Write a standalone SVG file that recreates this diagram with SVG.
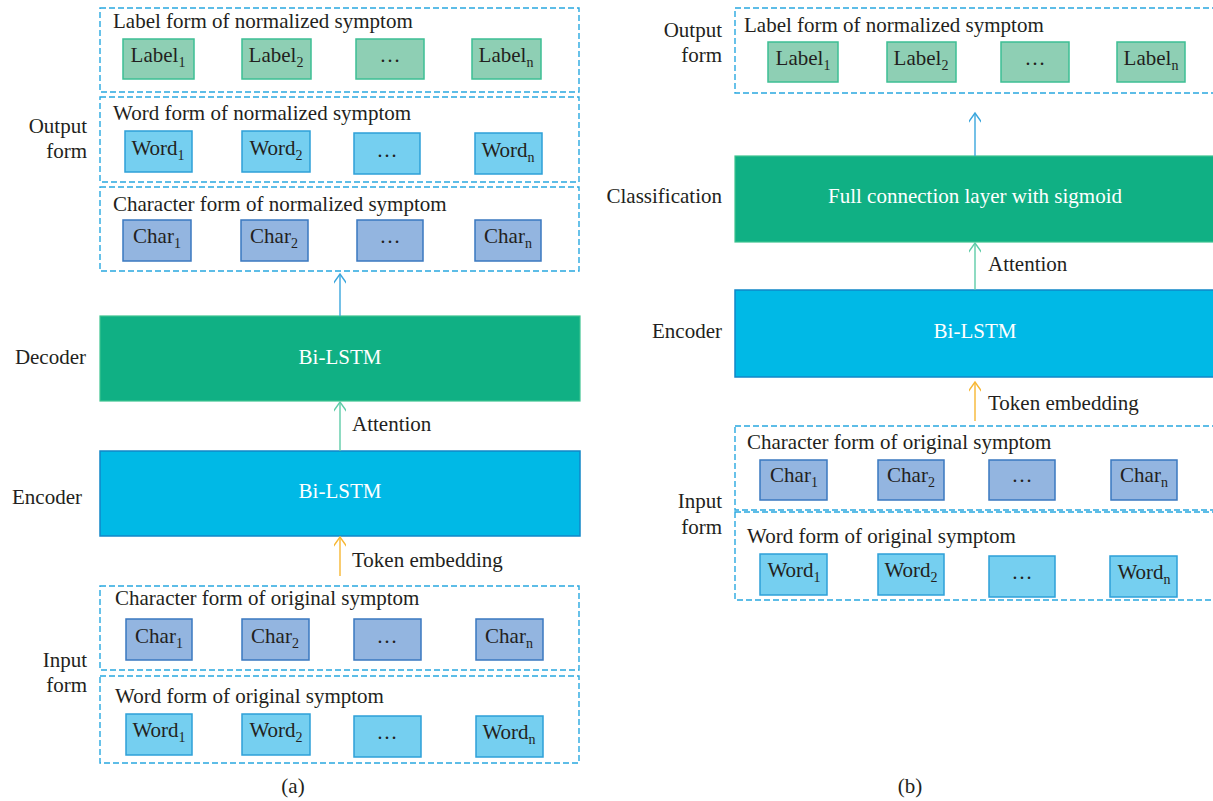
<svg xmlns="http://www.w3.org/2000/svg" width="1213" height="801" viewBox="0 0 1213 801">
<style>
text{font-family:"Liberation Serif","Times New Roman",serif;fill:#231f20;font-size:21px}
.c{text-anchor:middle}
.e{text-anchor:end}
.w{fill:#ffffff}
.dash{fill:none;stroke:#29a8e0;stroke-width:1.4;stroke-dasharray:6,3}
.lab{fill:#8ecfb4;stroke:#3dbf94;stroke-width:1.5}
.wrd{fill:#75cff0;stroke:#2ea0d8;stroke-width:1.5}
.chr{fill:#93b5e0;stroke:#3a78c0;stroke-width:1.5}
.grn{fill:#10b084;stroke:#3cc48f;stroke-width:1.2}
.blu{fill:#00b9e6;stroke:#1187c8;stroke-width:1.5}
.sub{font-size:14px}
.a1{fill:none;stroke:#3aa6dd;stroke-width:1.4}
.a2{fill:none;stroke:#5fcca8;stroke-width:1.4}
.a3{fill:none;stroke:#f7b733;stroke-width:1.4}
</style>
<defs>
<marker id="mBlue" viewBox="0 0 12 12" refX="10" refY="6" markerWidth="12" markerHeight="12" markerUnits="userSpaceOnUse" orient="auto"><polyline points="0,-1 10,6 0,13" fill="none" stroke="#3aa6dd" stroke-width="1.4"/></marker>
<marker id="mTeal" viewBox="0 0 12 12" refX="10" refY="6" markerWidth="12" markerHeight="12" markerUnits="userSpaceOnUse" orient="auto"><polyline points="0,-1 10,6 0,13" fill="none" stroke="#5fcca8" stroke-width="1.4"/></marker>
<marker id="mOrange" viewBox="0 0 12 12" refX="10" refY="6" markerWidth="12" markerHeight="12" markerUnits="userSpaceOnUse" orient="auto"><polyline points="0,-1 10,6 0,13" fill="none" stroke="#f7b733" stroke-width="1.4"/></marker>
</defs>

<!-- ===== Panel (a) ===== -->
<g id="a-side-labels">
<text class="e" x="87" y="133">Output</text>
<text class="e" x="87" y="158">form</text>
<text class="e" x="86" y="364">Decoder</text>
<text class="e" x="82" y="504">Encoder</text>
<text class="e" x="87" y="667">Input</text>
<text class="e" x="87" y="692">form</text>
<text class="c" x="293" y="793">(a)</text>
</g>

<g id="a-label-form">
<rect class="dash" x="100" y="8" width="479" height="84"/>
<text x="113" y="28">Label form of normalized symptom</text>
<rect class="lab" x="123" y="39" width="71" height="40"/>
<text class="c" x="158" y="62">Label<tspan class="sub" dy="5">1</tspan></text>
<rect class="lab" x="242" y="39" width="69" height="40"/>
<text class="c" x="276" y="62">Label<tspan class="sub" dy="5">2</tspan></text>
<rect class="lab" x="356" y="39" width="68" height="40"/>
<text class="c" x="390" y="62">…</text>
<rect class="lab" x="472" y="39" width="69" height="40"/>
<text class="c" x="506" y="62">Label<tspan class="sub" dy="5">n</tspan></text>
</g>

<g id="a-word-form-norm">
<rect class="dash" x="100" y="97" width="479" height="85"/>
<text x="113" y="120">Word form of normalized symptom</text>
<rect class="wrd" x="125" y="131" width="67" height="41"/>
<text class="c" x="158" y="155">Word<tspan class="sub" dy="5">1</tspan></text>
<rect class="wrd" x="242" y="131" width="68" height="41"/>
<text class="c" x="276" y="155">Word<tspan class="sub" dy="5">2</tspan></text>
<rect class="wrd" x="354" y="133" width="66" height="41"/>
<text class="c" x="387" y="157">…</text>
<rect class="wrd" x="475" y="133" width="67" height="41"/>
<text class="c" x="508" y="157">Word<tspan class="sub" dy="5">n</tspan></text>
</g>

<g id="a-char-form-norm">
<rect class="dash" x="100" y="187" width="479" height="84"/>
<text x="113" y="211">Character form of normalized symptom</text>
<rect class="chr" x="123" y="220" width="68" height="41"/>
<text class="c" x="157" y="243">Char<tspan class="sub" dy="5">1</tspan></text>
<rect class="chr" x="241" y="220" width="67" height="41"/>
<text class="c" x="274" y="243">Char<tspan class="sub" dy="5">2</tspan></text>
<rect class="chr" x="357" y="220" width="66" height="41"/>
<text class="c" x="390" y="243">…</text>
<rect class="chr" x="475" y="220" width="66" height="41"/>
<text class="c" x="508" y="243">Char<tspan class="sub" dy="5">n</tspan></text>
</g>

<g id="a-decoder">
<rect class="grn" x="100" y="316" width="480" height="85"/>
<text class="c w" x="340" y="364">Bi-LSTM</text>
</g>

<g id="a-encoder">
<rect class="blu" x="100" y="451" width="480" height="85"/>
<text class="c w" x="340" y="498">Bi-LSTM</text>
</g>

<g id="a-char-form-orig">
<rect class="dash" x="100" y="586" width="479" height="84"/>
<text x="115" y="605">Character form of original symptom</text>
<rect class="chr" x="126" y="619" width="66" height="41"/>
<text class="c" x="159" y="643">Char<tspan class="sub" dy="5">1</tspan></text>
<rect class="chr" x="242" y="619" width="67" height="41"/>
<text class="c" x="275" y="643">Char<tspan class="sub" dy="5">2</tspan></text>
<rect class="chr" x="354" y="619" width="67" height="41"/>
<text class="c" x="387" y="643">…</text>
<rect class="chr" x="476" y="619" width="67" height="41"/>
<text class="c" x="509" y="643">Char<tspan class="sub" dy="5">n</tspan></text>
</g>

<g id="a-word-form-orig">
<rect class="dash" x="100" y="676" width="479" height="87"/>
<text x="115" y="703">Word form of original symptom</text>
<rect class="wrd" x="126" y="714" width="66" height="41"/>
<text class="c" x="159" y="737">Word<tspan class="sub" dy="5">1</tspan></text>
<rect class="wrd" x="242" y="714" width="68" height="41"/>
<text class="c" x="276" y="737">Word<tspan class="sub" dy="5">2</tspan></text>
<rect class="wrd" x="354" y="716" width="67" height="41"/>
<text class="c" x="387" y="739">…</text>
<rect class="wrd" x="476" y="716" width="67" height="41"/>
<text class="c" x="509" y="739">Word<tspan class="sub" dy="5">n</tspan></text>
</g>

<!-- ===== Panel (b) ===== -->
<g id="b-side-labels">
<text class="e" x="722" y="37">Output</text>
<text class="e" x="722" y="62">form</text>
<text class="e" x="722" y="203">Classification</text>
<text class="e" x="722" y="338">Encoder</text>
<text class="e" x="722" y="508">Input</text>
<text class="e" x="722" y="534">form</text>
<text class="c" x="910" y="793">(b)</text>
</g>

<g id="b-label-form">
<rect class="dash" x="735" y="8" width="500" height="85"/>
<text x="744" y="32">Label form of normalized symptom</text>
<rect class="lab" x="768" y="42" width="70" height="40"/>
<text class="c" x="803" y="65">Label<tspan class="sub" dy="5">1</tspan></text>
<rect class="lab" x="887" y="42" width="69" height="40"/>
<text class="c" x="921" y="65">Label<tspan class="sub" dy="5">2</tspan></text>
<rect class="lab" x="1001" y="42" width="68" height="40"/>
<text class="c" x="1035" y="65">…</text>
<rect class="lab" x="1117" y="42" width="68" height="40"/>
<text class="c" x="1151" y="65">Label<tspan class="sub" dy="5">n</tspan></text>
</g>

<g id="b-classification">
<rect class="grn" x="735" y="156" width="500" height="86"/>
<text class="c w" x="975" y="203">Full connection layer with sigmoid</text>
</g>

<g id="b-encoder">
<rect class="blu" x="735" y="290" width="500" height="87"/>
<text class="c w" x="975" y="338">Bi-LSTM</text>
</g>

<g id="b-char-form-orig">
<rect class="dash" x="735" y="426" width="500" height="84"/>
<text x="747" y="449">Character form of original symptom</text>
<rect class="chr" x="760" y="460" width="67" height="40"/>
<text class="c" x="794" y="482">Char<tspan class="sub" dy="5">1</tspan></text>
<rect class="chr" x="878" y="460" width="66" height="40"/>
<text class="c" x="911" y="482">Char<tspan class="sub" dy="5">2</tspan></text>
<rect class="chr" x="989" y="460" width="66" height="40"/>
<text class="c" x="1022" y="482">…</text>
<rect class="chr" x="1111" y="460" width="66" height="40"/>
<text class="c" x="1144" y="482">Char<tspan class="sub" dy="5">n</tspan></text>
</g>

<g id="b-word-form-orig">
<rect class="dash" x="735" y="512" width="500" height="88"/>
<text x="747" y="543">Word form of original symptom</text>
<rect class="wrd" x="760" y="554" width="67" height="41"/>
<text class="c" x="794" y="577">Word<tspan class="sub" dy="5">1</tspan></text>
<rect class="wrd" x="878" y="554" width="66" height="41"/>
<text class="c" x="911" y="577">Word<tspan class="sub" dy="5">2</tspan></text>
<rect class="wrd" x="989" y="556" width="66" height="41"/>
<text class="c" x="1022" y="579">…</text>
<rect class="wrd" x="1110" y="556" width="67" height="41"/>
<text class="c" x="1144" y="579">Word<tspan class="sub" dy="5">n</tspan></text>
</g>

<g id="connectors">
<path class="a1" d="M340,316 V274" marker-end="url(#mBlue)"/>
<path class="a2" d="M340,451 V402" marker-end="url(#mTeal)"/>
<text x="352" y="431">Attention</text>
<path class="a3" d="M340,576 V537" marker-end="url(#mOrange)"/>
<text x="352" y="567">Token embedding</text>
<path class="a1" d="M975,156 V113" marker-end="url(#mBlue)"/>
<path class="a2" d="M975,290 V243" marker-end="url(#mTeal)"/>
<text x="988" y="271">Attention</text>
<path class="a3" d="M975,421 V382" marker-end="url(#mOrange)"/>
<text x="988" y="410">Token embedding</text>
</g>
</svg>
